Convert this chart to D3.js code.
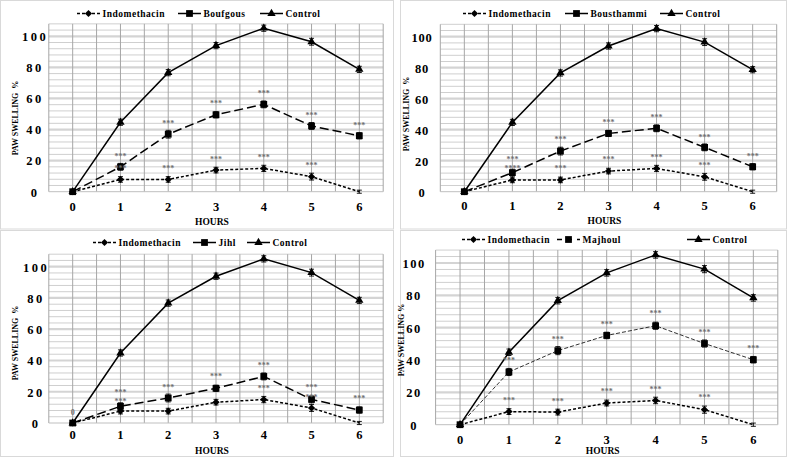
<!DOCTYPE html>
<html>
<head>
<meta charset="utf-8">
<script src="https://cdn.jsdelivr.net/npm/d3@7"></script>
<style>
  body { margin: 0; background: #fff; }
  svg { display: block; }
  svg text { font-family: "Liberation Serif", "Times New Roman", Times, serif !important; }
</style>
</head>
<body>
<script>
var hours = [0, 1, 2, 3, 4, 5, 6];
var yTicks = [0, 20, 40, 60, 80, 100];
var yMax = 108;

// control group, read per panel
var controlA = [0, 44.7, 76.6, 94, 105.2, 96.5, 78.7];
var controlB = [0, 44.8, 76.7, 93.9, 105, 96.2, 78.4];
var controlErr = [0.8, 2, 2, 2, 2, 2.2, 2];

// indomethacin, read per panel
var indoA = [0, 7.9, 7.9, 13.9, 15, 9.7, 0];
var indoB = [0, 7.6, 7.6, 13.3, 15, 9.6, 0];
var indoC = [0, 8.1, 7.8, 13.4, 15, 9.3, 0];
var indoErr = [0.8, 1.8, 1.8, 1.8, 2, 2.2, 1];

var boufgous = [0, 16, 37, 49.5, 56.2, 42.3, 36];
var bousthammi = [0, 12.3, 26.2, 37.6, 40.9, 28.6, 16.1];
var jihl = [0, 10.7, 16, 22.2, 29.8, 15.1, 8.3];
var majhoul = [0, 32.6, 45.8, 55.2, 61.2, 50.2, 40.2];
var treatErr = [0.8, 2.2, 2.5, 2, 2.2, 2.2, 2];

// significance marks: [hour, value, text]
var starsA = [[1, 23.6, '***'], [1, 16.2, '***'], [2, 15.7, '***'], [2, 45, '***'],
  [3, 21.5, '***'], [3, 58, '***'], [4, 23, '***'], [4, 64, '***'],
  [5, 17.6, '***'], [5, 50, '***'], [6, 43.3, '***']];
var starsB = [[1, 22, '***'], [1, 16, '****'], [2, 15.7, '***'], [2, 34.4, '***'],
  [3, 21.5, '***'], [3, 45.8, '***'], [4, 23, '***'], [4, 48.8, '***'],
  [5, 17.6, '***'], [5, 36.1, '***'], [6, 24, '***']];
var starsC = [[0, 7.5, '0'], [1, 20.5, '***'], [1, 14.5, '***'], [2, 23.9, '***'],
  [3, 30.7, '***'], [4, 37.7, '***'], [4, 23, '***'], [5, 23.5, '***'],
  [5, 17.5, '***'], [6, 16.4, '***']];
var starsD = [[1, 40.6, '***'], [1, 16.1, '***'], [2, 53.6, '***'], [2, 15.5, '***'],
  [3, 62.9, '***'], [3, 21.6, '***'], [4, 69.5, '***'], [4, 22.7, '***'],
  [5, 58.1, '***'], [5, 17.9, '***'], [6, 48, '***']];

var panels = [
  { name: 'Boufgous', treat: boufgous, indo: indoA, ctrl: controlA, stars: starsA, thin: false,
    box: [0.5, 0.5, 393, 228.5], left: 48.8, right: 383.2, y0: 191.7, k: 1.554,
    legendX: [77, 178, 260], legendY: 17, yTickX: 35, yTickLs: 2.5, xTickY: 210.5, hoursY: 225,
    yLabX: 18, yLabY: 118, yLab: 'PAW SWELLING  %' },
  { name: 'Bousthammi', treat: bousthammi, indo: indoB, ctrl: controlA, stars: starsB, thin: false,
    box: [400.5, 0.5, 386, 228.5], left: 440.3, right: 776.7, y0: 191.7, k: 1.55,
    legendX: [463, 565, 660], legendY: 17, yTickX: 422, yTickLs: 0.8, xTickY: 210, hoursY: 224,
    yLabX: 409, yLabY: 114, yLab: 'PAW SWELLING  %' },
  { name: 'Jihl', treat: jihl, indo: indoB, ctrl: controlB, stars: starsC, thin: false,
    box: [0.5, 230.5, 393, 226], left: 48.8, right: 383.2, y0: 423, k: 1.563,
    legendX: [93, 193, 247], legendY: 246, yTickX: 36, yTickLs: 2.5, xTickY: 438.7, hoursY: 453.7,
    yLabX: 18, yLabY: 343, yLab: 'PAW SWELLING  %' },
  { name: 'Majhoul', treat: majhoul, indo: indoC, ctrl: controlB, stars: starsD, thin: true,
    box: [400.5, 230.5, 386, 226], left: 435.6, right: 777.8, y0: 424.7, k: 1.617,
    legendX: [462, 557, 687], legendY: 243, yTickX: 414, yTickLs: 1.5, xTickY: 444, hoursY: 453.7,
    yLabX: 404, yLabY: 340, yLab: 'PAW SWELLING %' }
];

var svg = d3.select('body').append('svg')
  .attr('width', 787)
  .attr('height', 458);

var diamond = d3.symbol().type(d3.symbolSquare).size(26);
var square = d3.symbol().type(d3.symbolSquare).size(46);
var triangle = d3.symbol().type(d3.symbolTriangle).size(30);

panels.forEach(function (p) {
  var g = svg.append('g');

  g.append('rect')
    .attr('x', p.box[0]).attr('y', p.box[1])
    .attr('width', p.box[2]).attr('height', p.box[3])
    .attr('fill', 'none').attr('stroke', '#d9d9d9');

  var x = d3.scaleBand().domain(hours).range([p.left, p.right]).padding(0);
  var y = d3.scaleLinear().domain([0, yMax]).range([p.y0, p.y0 - yMax * p.k]);
  var cx = function (h) { return x(h) + x.bandwidth() / 2; };

  // horizontal grid
  var minor = d3.range(4, yMax + 1, 4).filter(function (v) { return v % 20 !== 0; });
  g.selectAll('.hmin').data(minor).enter().append('line')
    .attr('x1', p.left).attr('x2', p.right)
    .attr('y1', function (d) { return y(d); }).attr('y2', function (d) { return y(d); })
    .attr('stroke', '#cfcfcf').attr('stroke-width', 1);
  g.selectAll('.hmaj').data(yTicks.slice(1)).enter().append('line')
    .attr('x1', p.left).attr('x2', p.right)
    .attr('y1', function (d) { return y(d); }).attr('y2', function (d) { return y(d); })
    .attr('stroke', '#d4d4d4').attr('stroke-width', 2.2);

  // vertical grid at band edges and centres
  var vx = [];
  hours.forEach(function (h) { vx.push(x(h)); vx.push(cx(h)); });
  vx.push(p.right);
  g.selectAll('.v').data(vx).enter().append('line')
    .attr('x1', function (d) { return d; }).attr('x2', function (d) { return d; })
    .attr('y1', y(0)).attr('y2', y(yMax))
    .attr('stroke', '#a6a6a6').attr('stroke-width', 1);

  g.append('line')
    .attr('x1', p.left).attr('x2', p.right)
    .attr('y1', y(0)).attr('y2', y(0))
    .attr('stroke', '#bfbfbf').attr('stroke-width', 1);

  // axes
  var ya = g.append('g')
    .attr('transform', 'translate(' + p.yTickX + ',0)')
    .call(d3.axisLeft(y).tickValues(yTicks).tickSize(0).tickPadding(0));
  ya.attr('font-family', null);
  ya.select('.domain').remove();
  ya.selectAll('text')
    .attr('x', 0).attr('dy', '0.35em')
    .attr('text-anchor', 'middle')
    .attr('font-weight', 'bold')
    .attr('font-size', 12.5).attr('letter-spacing', p.yTickLs)
    .attr('fill', '#000');

  var xa = g.append('g')
    .attr('transform', 'translate(0,' + p.xTickY + ')')
    .call(d3.axisBottom(x).tickSize(0).tickPadding(0));
  xa.attr('font-family', null);
  xa.select('.domain').remove();
  xa.selectAll('text')
    .attr('y', 0).attr('dy', 0)
    .attr('font-weight', 'bold')
    .attr('font-size', 12.5).attr('fill', '#000');

  g.append('text')
    .attr('x', (p.left + p.right) / 2 - 4).attr('y', p.hoursY)
    .attr('text-anchor', 'middle')
    .attr('font-weight', 'bold').attr('font-size', 9.5)
    .text('HOURS');

  g.append('text')
    .attr('transform', 'translate(' + p.yLabX + ',' + p.yLabY + ') rotate(-90)')
    .attr('text-anchor', 'middle')
    .attr('font-weight', 'bold').attr('font-size', 8)
    .style('white-space', 'pre')
    .text(p.yLab);

  // series
  var series = [
    { vals: p.indo, err: indoErr, dash: '3,2', w: 1.5, sym: diamond, rot: 45 },
    { vals: p.treat, err: treatErr, dash: p.thin ? '4,2' : '9,4', w: p.thin ? 0.8 : 1.5, sym: square, rot: 0 },
    { vals: p.ctrl, err: controlErr, dash: null, w: 1.5, sym: triangle, rot: 0 }
  ];

  series.forEach(function (s) {
    var line = d3.line()
      .x(function (d, i) { return cx(hours[i]); })
      .y(function (d) { return y(d); });
    g.append('path')
      .datum(s.vals)
      .attr('d', line)
      .attr('fill', 'none')
      .attr('stroke', '#000')
      .attr('stroke-width', s.w)
      .attr('stroke-dasharray', s.dash);

    var pts = s.vals.map(function (v, i) { return { h: hours[i], v: v, e: s.err[i] }; });
    var eb = g.selectAll(null).data(pts).enter().append('g').attr('stroke', '#000').attr('stroke-width', 0.9);
    eb.append('line')
      .attr('x1', function (d) { return cx(d.h); }).attr('x2', function (d) { return cx(d.h); })
      .attr('y1', function (d) { return y(d.v - d.e); }).attr('y2', function (d) { return y(d.v + d.e); });
    eb.append('line')
      .attr('x1', function (d) { return cx(d.h) - 2.5; }).attr('x2', function (d) { return cx(d.h) + 2.5; })
      .attr('y1', function (d) { return y(d.v + d.e); }).attr('y2', function (d) { return y(d.v + d.e); });
    eb.append('line')
      .attr('x1', function (d) { return cx(d.h) - 2.5; }).attr('x2', function (d) { return cx(d.h) + 2.5; })
      .attr('y1', function (d) { return y(d.v - d.e); }).attr('y2', function (d) { return y(d.v - d.e); });

    g.selectAll(null)
      .data(pts.filter(function (d) { return !(s.sym === diamond && d.h === 6); }))
      .enter().append('path')
      .attr('d', s.sym)
      .attr('transform', function (d) {
        return 'translate(' + cx(d.h) + ',' + y(d.v) + ') rotate(' + s.rot + ')';
      })
      .attr('fill', '#000');
  });

  // significance marks
  g.selectAll(null).data(p.stars).enter().append('text')
    .attr('x', function (d) { return cx(d[0]); })
    .attr('y', function (d) { return y(d[1]) + 4; })
    .attr('text-anchor', 'middle')
    .attr('font-size', 8).attr('font-weight', 'bold')
    .attr('fill', '#6f6f6f')
    .text(function (d) { return d[2]; });

  // legend
  var names = ['Indomethacin', p.name, 'Control'];
  names.forEach(function (n, i) {
    var lx = p.legendX[i];
    var ly = p.legendY - 3.5;
    var s = series[i];
    var legDash = i === 0 ? '3,2' : (p.thin && i === 1 ? '5,5' : null);
    g.append('line')
      .attr('x1', lx).attr('x2', lx + 23)
      .attr('y1', ly).attr('y2', ly)
      .attr('stroke', '#000').attr('stroke-width', 1.5)
      .attr('stroke-dasharray', legDash);
    g.append('path')
      .attr('d', s.sym)
      .attr('transform', 'translate(' + (lx + 11.5) + ',' + ly + ') rotate(' + s.rot + ')')
      .attr('fill', '#000');
    g.append('text')
      .attr('x', lx + 25.5).attr('y', p.legendY)
      .attr('font-weight', 'bold').attr('font-size', 9.5)
      .attr('letter-spacing', 0.5)
      .text(n);
  });
});
</script>
</body>
</html>
